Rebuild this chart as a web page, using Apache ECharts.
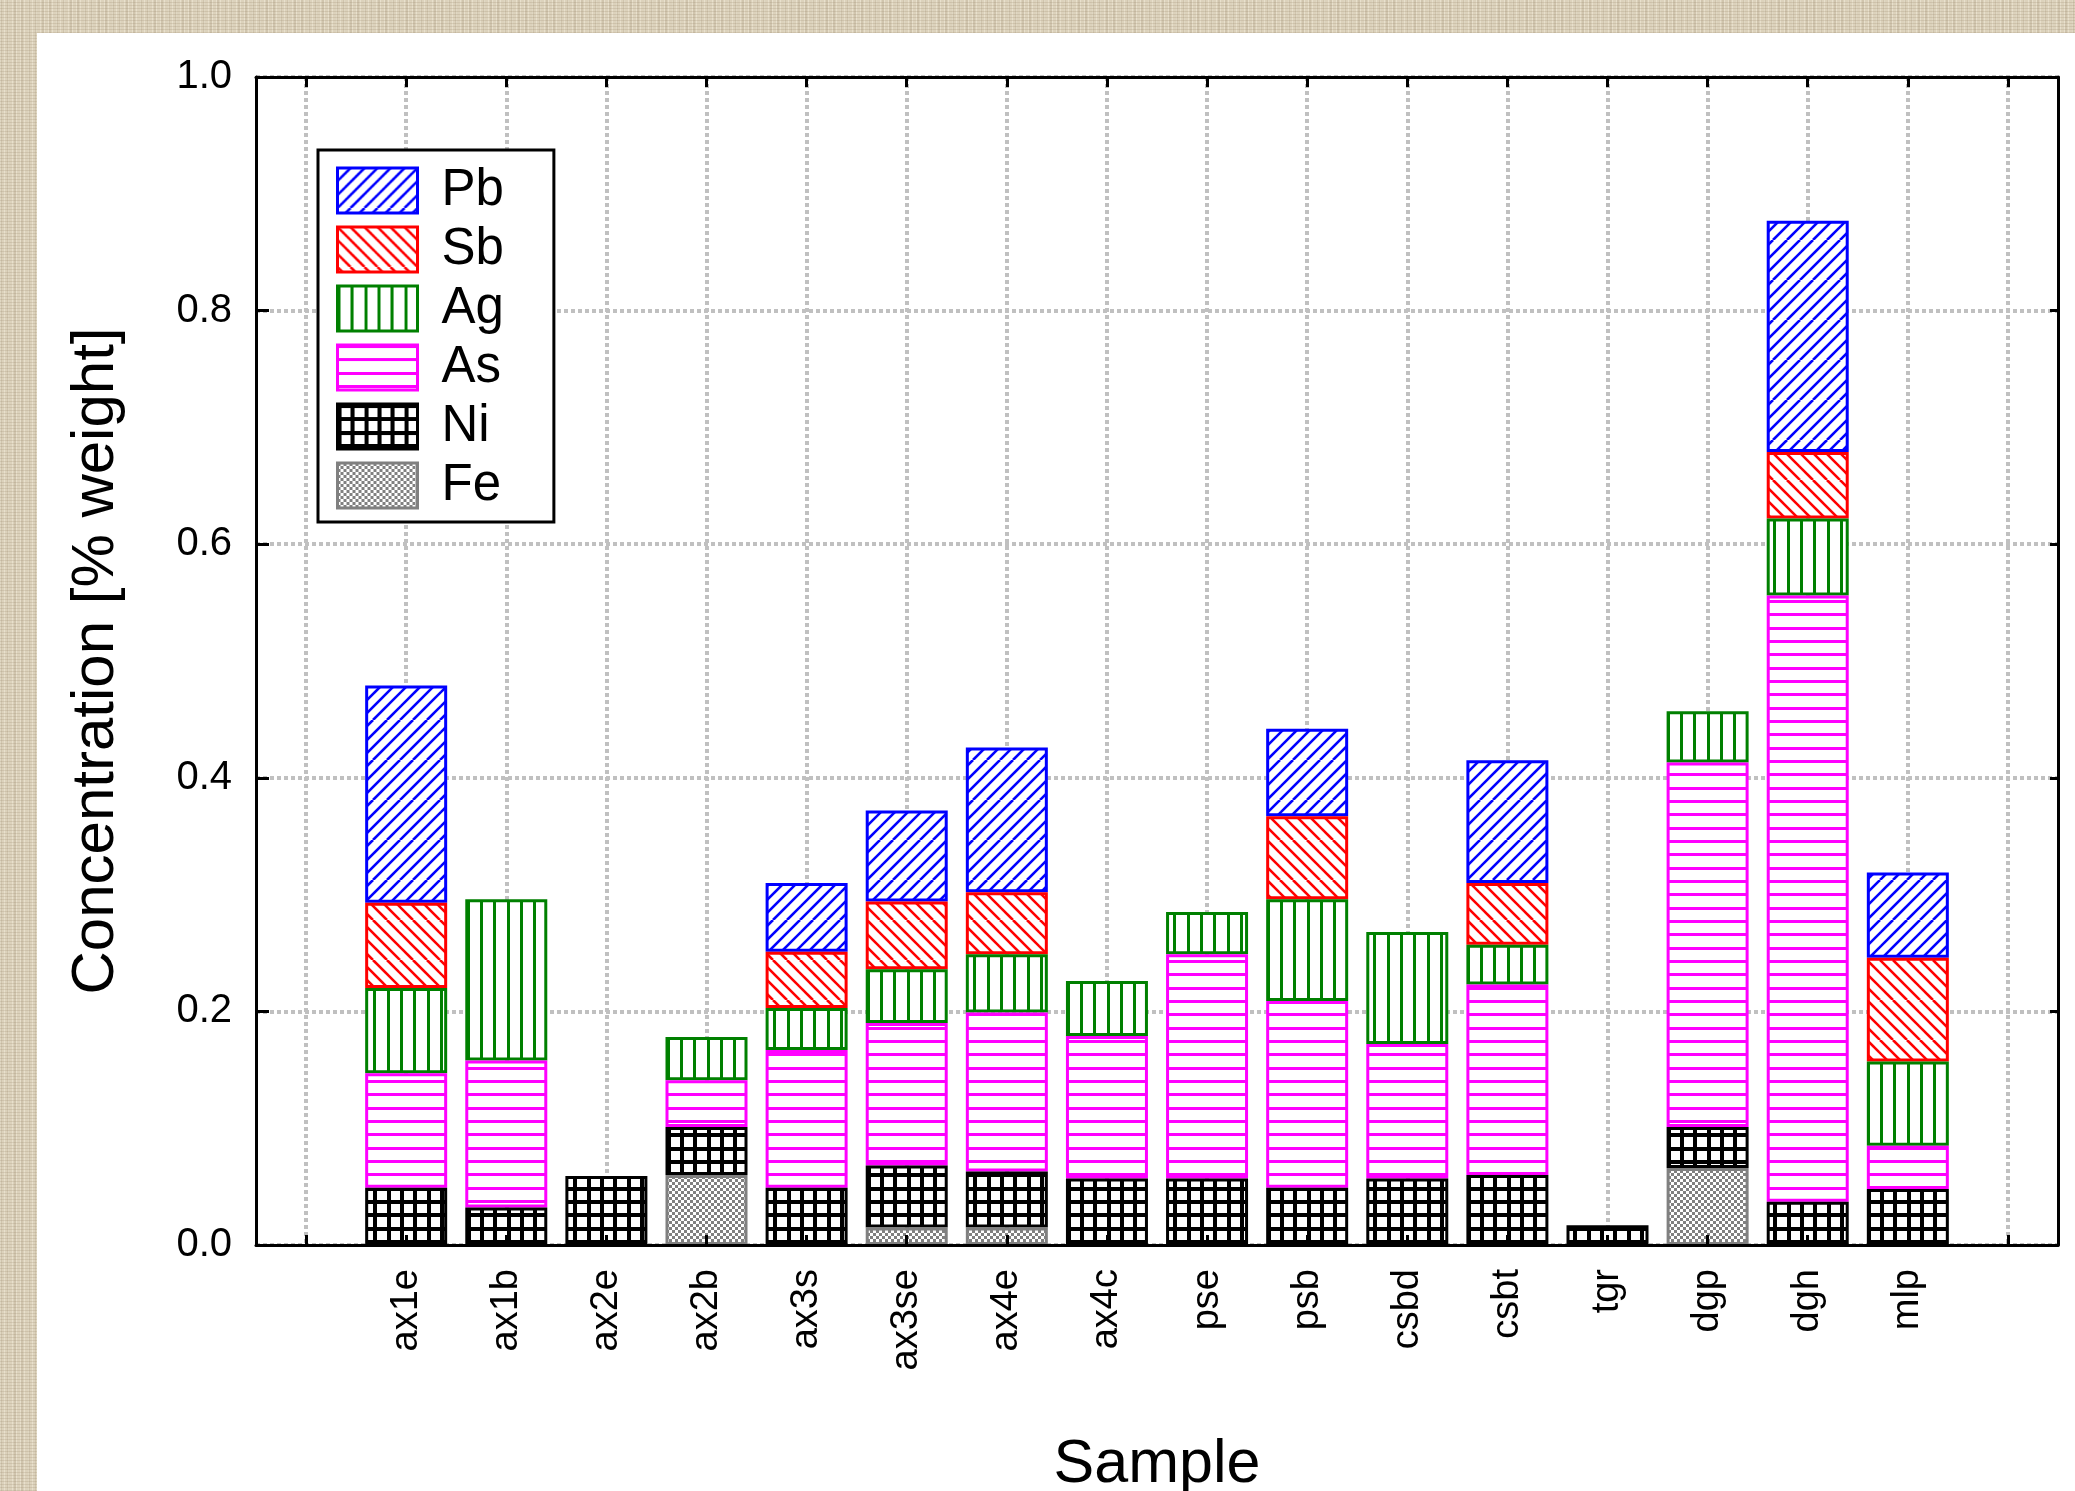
<!DOCTYPE html>
<html>
<head>
<meta charset="utf-8">
<script src="https://cdn.jsdelivr.net/npm/echarts@6/dist/echarts.min.js"></script>
<style>
html,body{margin:0;padding:0;width:2075px;height:1491px;overflow:hidden;}
body{
  background-color:#dcd2bc;
  background-image:
    repeating-linear-gradient(0deg, rgba(140,120,90,0.18) 0px, rgba(140,120,90,0.18) 1px, rgba(255,255,255,0) 1px, rgba(255,255,255,0) 3px),
    repeating-linear-gradient(90deg, rgba(255,250,235,0.35) 0px, rgba(255,250,235,0.35) 1px, rgba(255,255,255,0) 1px, rgba(255,255,255,0) 4px),
    repeating-linear-gradient(90deg, rgba(120,100,70,0.12) 0px, rgba(120,100,70,0.12) 2px, rgba(255,255,255,0) 2px, rgba(255,255,255,0) 7px);
}
#panel{position:absolute;left:37px;top:33px;right:0;bottom:0;background:#ffffff;}
#chart{position:absolute;left:0;top:0;width:2075px;height:1491px;}
</style>
</head>
<body>
<div id="panel"></div>
<div id="chart"></div>
<script>
// ---------------- data ----------------
const categories = ['', 'ax1e', 'ax1b', 'ax2e', 'ax2b', 'ax3s', 'ax3se', 'ax4e', 'ax4c', 'pse', 'psb', 'csbd', 'csbt', 'tgr', 'dgp', 'dgh', 'mlp', ''];
const Fe = [null, null, null, null, 0.060, null, 0.015, 0.015, null, null, null, null, null, null, 0.066, null, null, null];
const Ni = [null, 0.049, 0.032, 0.059, 0.041, 0.049, 0.053, 0.048, 0.057, 0.057, 0.049, 0.057, 0.060, 0.017, 0.035, 0.037, 0.048, null];
const As = [null, 0.098, 0.126, null, 0.040, 0.118, 0.122, 0.136, 0.122, 0.192, 0.160, 0.115, 0.163, null, 0.312, 0.519, 0.037, null];
const Ag = [null, 0.073, 0.138, null, 0.037, 0.036, 0.046, 0.050, 0.047, 0.036, 0.087, 0.096, 0.034, null, 0.044, 0.066, 0.072, null];
const Sb = [null, 0.073, null, null, null, 0.048, 0.058, 0.053, null, null, 0.071, null, 0.053, null, null, 0.057, 0.089, null];
const Pb = [null, 0.186, null, null, null, 0.059, 0.078, 0.124, null, null, 0.075, null, 0.105, null, null, 0.198, 0.073, null];
const legendOrder = ['Pb', 'Sb', 'Ag', 'As', 'Ni', 'Fe'];

// ---------------- hatch patterns ----------------
function makeTile(size, draw) {
  const c = document.createElement('canvas');
  c.width = size; c.height = size;
  const ctx = c.getContext('2d');
  ctx.fillStyle = '#ffffff';
  ctx.fillRect(0, 0, size, size);
  draw(ctx, size);
  return { image: c, repeat: 'repeat' };
}
const offs = [0, 13, 27];
function diagTile(color, up) {
  return makeTile(40, (ctx, s) => {
    ctx.strokeStyle = color;
    ctx.lineWidth = 2.6;
    [-40, 0, 40].forEach(shift => {
      offs.forEach(j => {
        ctx.beginPath();
        if (up) { ctx.moveTo(j + shift, s); ctx.lineTo(j + shift + s, 0); }
        else { ctx.moveTo(j + shift, 0); ctx.lineTo(j + shift + s, s); }
        ctx.stroke();
      });
    });
  });
}
const patPb = diagTile('#0000ff', true);
const patSb = diagTile('#ff0000', false);
const patAg = makeTile(40, (ctx, s) => {
  ctx.fillStyle = '#008000';
  offs.forEach(j => ctx.fillRect(j, 0, 3, s));
});
const patAs = makeTile(40, (ctx, s) => {
  ctx.fillStyle = '#ff00ff';
  offs.forEach(j => ctx.fillRect(0, j, s, 3));
});
const patNi = makeTile(40, (ctx, s) => {
  ctx.fillStyle = '#000000';
  offs.forEach(j => { ctx.fillRect(j, 0, 4, s); ctx.fillRect(0, j, s, 4); });
});
const patFe = makeTile(6, (ctx, s) => {
  ctx.fillStyle = '#808080';
  ctx.fillRect(0, 0, 3, 3);
  ctx.fillRect(3, 3, 3, 3);
});

const FONT = '"Liberation Sans", Arial, sans-serif';

function barSeries(name, data, pattern, border, z) {
  return {
    name: name, type: 'bar', stack: 'total', data: data,
    xAxisIndex: 0, yAxisIndex: 0,
    barWidth: 82, z: z,
    itemStyle: { color: pattern, borderColor: border, borderWidth: 3 },
    emphasis: { disabled: true }
  };
}

const chart = echarts.init(document.getElementById('chart'), null, { renderer: 'canvas' });
const frameTick = { show: true, inside: true, length: 10, alignWithLabel: true, interval: 0, lineStyle: { color: '#000', width: 3 } };
const frameLine = { show: true, onZero: false, lineStyle: { color: '#000', width: 3 } };
const gridStyle = { color: '#c0c0c0', width: 4, type: [4, 3] };

chart.setOption({
  animation: false,
  backgroundColor: 'transparent',
  grid: { left: 256, right: 17, top: 77, bottom: 246, containLabel: false, outerBoundsMode: 'none' },
  legend: {
    data: legendOrder,
    orient: 'vertical',
    left: 318, top: 150,
    padding: [15, 50, 11, 18],
    itemWidth: 80, itemHeight: 45, itemGap: 8,
    icon: 'rect',
    backgroundColor: '#fff',
    borderColor: '#000', borderWidth: 3,
    itemStyle: { borderWidth: 3 },
    textStyle: { fontSize: 51, fontFamily: FONT, color: '#000', padding: [0, 0, 0, 19], lineHeight: 45 },
    selectedMode: false,
    z: 20
  },
  xAxis: [
    {
      type: 'category', data: categories, position: 'bottom', boundaryGap: true,
      axisLine: { show: false }, axisTick: { show: false },
      axisLabel: { interval: 0, rotate: 90, margin: 24, fontSize: 38, fontFamily: FONT, color: '#000' },
      splitLine: { show: true, interval: 0, alignWithLabel: true, lineStyle: gridStyle },
      name: 'Sample', nameLocation: 'middle', nameGap: 190,
      nameTextStyle: { fontSize: 61, fontFamily: FONT, color: '#000' },
      z: 0
    },
    {
      type: 'category', data: categories, position: 'top', boundaryGap: true,
      axisLine: frameLine, axisTick: frameTick, axisLabel: { show: false }, splitLine: { show: false }, z: 10
    },
    {
      type: 'category', data: categories, position: 'bottom', boundaryGap: true,
      axisLine: frameLine, axisTick: frameTick, axisLabel: { show: false }, splitLine: { show: false }, z: 10
    }
  ],
  yAxis: [
    {
      type: 'value', min: 0, max: 1, interval: 0.2, position: 'left',
      axisLine: { show: false }, axisTick: { show: false },
      axisLabel: { margin: 24, fontSize: 40, fontFamily: FONT, color: '#000', formatter: v => v.toFixed(1) },
      splitLine: { show: true, lineStyle: gridStyle },
      name: 'Concentration [% weight]', nameLocation: 'middle', nameGap: 130,
      nameTextStyle: { fontSize: 60, fontFamily: FONT, color: '#000' },
      z: 0
    },
    {
      type: 'value', min: 0, max: 1, interval: 0.2, position: 'right',
      axisLine: frameLine, axisTick: { show: true, inside: true, length: 8, lineStyle: { color: '#000', width: 3 } },
      axisLabel: { show: false }, splitLine: { show: false }, z: 10
    },
    {
      type: 'value', min: 0, max: 1, interval: 0.2, position: 'left',
      axisLine: frameLine, axisTick: { show: true, inside: true, length: 13, lineStyle: { color: '#000', width: 3 } },
      axisLabel: { show: false }, splitLine: { show: false }, z: 10
    }
  ],
  series: [
    barSeries('Fe', Fe, patFe, '#808080', 8),
    barSeries('Ni', Ni, patNi, '#000000', 7),
    barSeries('As', As, patAs, '#ff00ff', 6),
    barSeries('Ag', Ag, patAg, '#008000', 5),
    barSeries('Sb', Sb, patSb, '#ff0000', 4),
    barSeries('Pb', Pb, patPb, '#0000ff', 3)
  ]
});
</script>
</body>
</html>
